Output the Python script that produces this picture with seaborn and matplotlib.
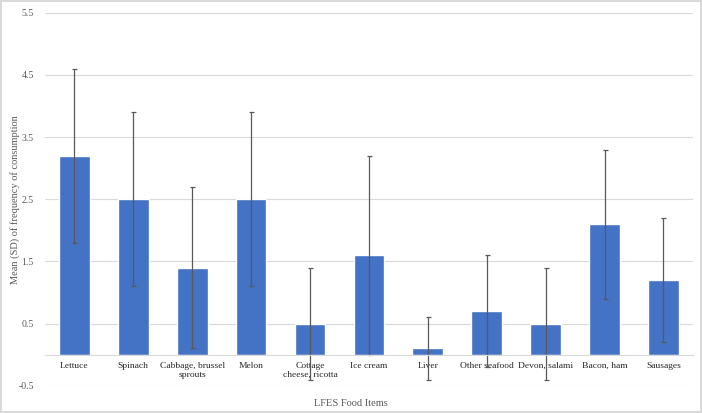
import numpy as np
import pandas as pd
import seaborn as sns
import matplotlib.pyplot as plt

# values
foods = ["Lettuce", "Spinach", "Cabbage, brussel\nsprouts", "Melon", "Cottage\ncheese, ricotta",
         "Ice cream", "Liver", "Other seafood", "Devon, salami", "Bacon, ham", "Sausages"]
means = [3.2, 2.5, 1.4, 2.5, 0.5, 1.6, 0.1, 0.7, 0.5, 2.1, 1.2]
sds = [1.4, 1.4, 1.3, 1.4, 0.9, 1.6, 0.5, 0.9, 0.9, 1.2, 1.0]
yticks = [-0.5, 0.5, 1.5, 2.5, 3.5, 4.5, 5.5]

sns.set_style("white")
plt.rcParams['font.family'] = ['Liberation Serif', 'DejaVu Serif']

df = pd.DataFrame({"food": foods, "mean": means, "sd": sds})

fig = plt.figure(figsize=(7.02, 4.13), dpi=100, edgecolor='#d9d9d9', linewidth=1.5)
ax = fig.add_axes([0.064, 0.066, 0.923, 0.903])

sns.barplot(data=df, x="food", y="mean", color="#4472C4", saturation=1, width=0.52, ax=ax)
ax.errorbar(np.arange(len(foods)), df["mean"], yerr=df["sd"], fmt='none',
            ecolor='#595959', elinewidth=0.9, capsize=1.8, capthick=0.9)

ax.set_ylim(-0.5, 5.5)
ax.set_xlim(-0.5, len(foods) - 0.5)
ax.set_yticks(yticks)
ax.set_yticklabels([str(t) for t in yticks])
ax.grid(axis='y', color='#d9d9d9', linewidth=0.8)
ax.set_axisbelow(True)

for s in ['top', 'right', 'left']:
    ax.spines[s].set_visible(False)
ax.spines['bottom'].set_position(('data', 0))
ax.spines['bottom'].set_color('#d9d9d9')
ax.spines['bottom'].set_linewidth(0.8)

ax.tick_params(axis='both', length=0, labelsize=7)
ax.tick_params(axis='y', labelcolor='#595959', pad=8)
ax.tick_params(axis='x', labelcolor='#262626', pad=5, labelsize=6.8)

ax.set_xlabel("")
ax.set_ylabel("")
fig.text(0.022, 0.517, "Mean (SD) of frequency of consumption", rotation=90,
         ha='center', va='center', fontsize=7.5, color='#595959')
fig.text(0.5, 0.022, "LFES Food Items", ha='center', va='center', fontsize=7.5, color='#595959')

fig.savefig("out.png", dpi=100, edgecolor=fig.get_edgecolor())
